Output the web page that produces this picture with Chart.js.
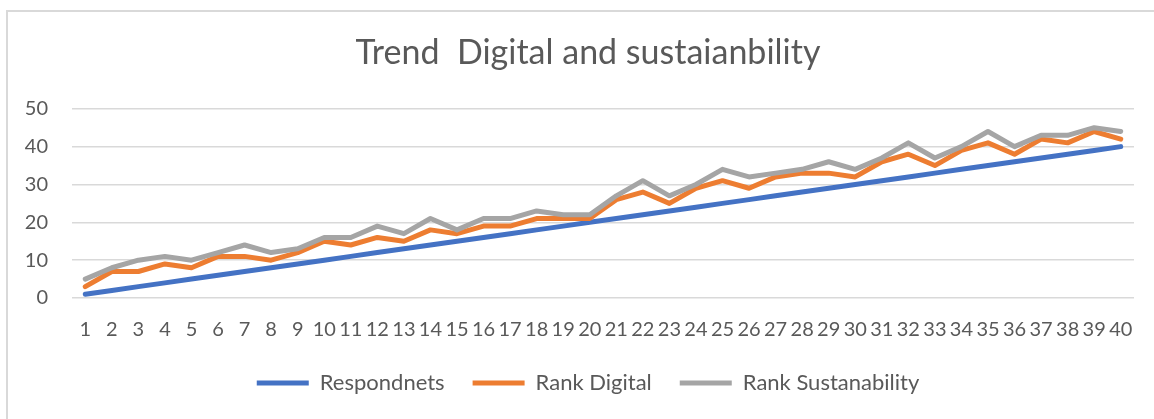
<!DOCTYPE html>
<html>
<head>
<meta charset="utf-8">
<script src="https://cdn.jsdelivr.net/npm/chart.js@4/dist/chart.umd.min.js"></script>
<style>
    html, body { margin: 0; padding: 0; background: #fff; overflow: hidden; }
    #frame { position: absolute; left: 6px; top: 10px; width: 1300px; height: 600px; border-left: 2px solid #d9d9d9; border-top: 2px solid #d9d9d9; }
    #wrap { position: absolute; left: 0; top: 0; width: 1154px; height: 419px; }
</style>
</head>
<body>
<div id="frame"></div>
<div id="wrap"><canvas id="line-chart"></canvas></div>
<script>
    // 응답자 번호 1~40
    var labels = ['1', '2', '3', '4', '5', '6', '7', '8', '9', '10', '11', '12', '13', '14', '15', '16', '17', '18', '19', '20',
        '21', '22', '23', '24', '25', '26', '27', '28', '29', '30', '31', '32', '33', '34', '35', '36', '37', '38', '39', '40'];

    var respondents = [1, 2, 3, 4, 5, 6, 7, 8, 9, 10, 11, 12, 13, 14, 15, 16, 17, 18, 19, 20,
        21, 22, 23, 24, 25, 26, 27, 28, 29, 30, 31, 32, 33, 34, 35, 36, 37, 38, 39, 40];
    var rankDigital = [3, 7, 7, 9, 8, 11, 11, 10, 12, 15, 14, 16, 15, 18, 17, 19, 19, 21, 21, 21,
        26, 28, 25, 29, 31, 29, 32, 33, 33, 32, 36, 38, 35, 39, 41, 38, 42, 41, 44, 42];
    var rankSustain = [5, 8, 10, 11, 10, 12, 14, 12, 13, 16, 16, 19, 17, 21, 18, 21, 21, 23, 22, 22,
        27, 31, 27, 30, 34, 32, 33, 34, 36, 34, 37, 41, 37, 40, 44, 40, 43, 43, 45, 44];
    var yTicks = [0, 10, 20, 30, 40, 50];

    var textColor = '#595959';
    var fontName = 'Lato, Carlito, Calibri, sans-serif';

    function line(label, data, color, order) {
        return {
            label: label,
            data: data,
            borderColor: color,
            backgroundColor: color,
            borderWidth: 5,
            borderCapStyle: 'round',
            borderJoinStyle: 'round',
            pointRadius: 0,
            tension: 0,
            order: order
        };
    }

    var ctx = document.getElementById('line-chart');
    var myLineChart = new Chart(ctx, {
        type: 'line',
        data: {
            labels: labels,
            datasets: [
                line('Respondnets', respondents, '#4472C4', 3),
                line('Rank Digital', rankDigital, '#ED7D31', 2),
                line('Rank Sustanability', rankSustain, '#A5A5A5', 1)
            ]
        },
        options: {
            responsive: true,
            maintainAspectRatio: false,
            animation: false,
            // 범례를 오른쪽으로 조금 옮기려고 왼쪽 여백을 줌
            layout: { padding: { left: 22, right: 0, top: 0, bottom: 15 } },
            plugins: {
                title: {
                    display: true,
                    text: 'Trend  Digital and sustaianbility',
                    color: textColor,
                    font: { family: fontName, size: 34, weight: 'normal' },
                    padding: { top: 33, bottom: 35 }
                },
                legend: {
                    display: true,
                    position: 'bottom',
                    labels: {
                        color: textColor,
                        font: { family: fontName, size: 22 },
                        usePointStyle: true,
                        pointStyle: 'line',
                        pointStyleWidth: 52,
                        padding: 28,
                        sort: function (a, b) { return a.datasetIndex - b.datasetIndex; }
                    }
                },
                tooltip: { enabled: false }
            },
            scales: {
                x: {
                    offset: true,
                    grid: { display: false, drawTicks: false },
                    border: { display: false },
                    ticks: {
                        color: textColor,
                        font: { family: fontName, size: 20 },
                        padding: 20,
                        maxRotation: 0,
                        autoSkip: false
                    },
                    afterFit: function (s) { s.height = 46; }
                },
                y: {
                    min: yTicks[0],
                    max: yTicks[yTicks.length - 1],
                    grid: { color: '#d9d9d9', lineWidth: 1.5, drawTicks: false },
                    border: { display: false },
                    ticks: {
                        stepSize: 10,
                        color: textColor,
                        font: { family: fontName, size: 20 },
                        padding: 24
                    },
                    afterFit: function (s) { s.width = 50; }
                },
                // 오른쪽 빈 공간용 축 (표시 안 함)
                yRight: {
                    position: 'right',
                    grid: { display: false, drawTicks: false },
                    border: { display: false },
                    ticks: { display: false },
                    afterFit: function (s) { s.width = 20; }
                }
            }
        }
    });
</script>
</body>
</html>
